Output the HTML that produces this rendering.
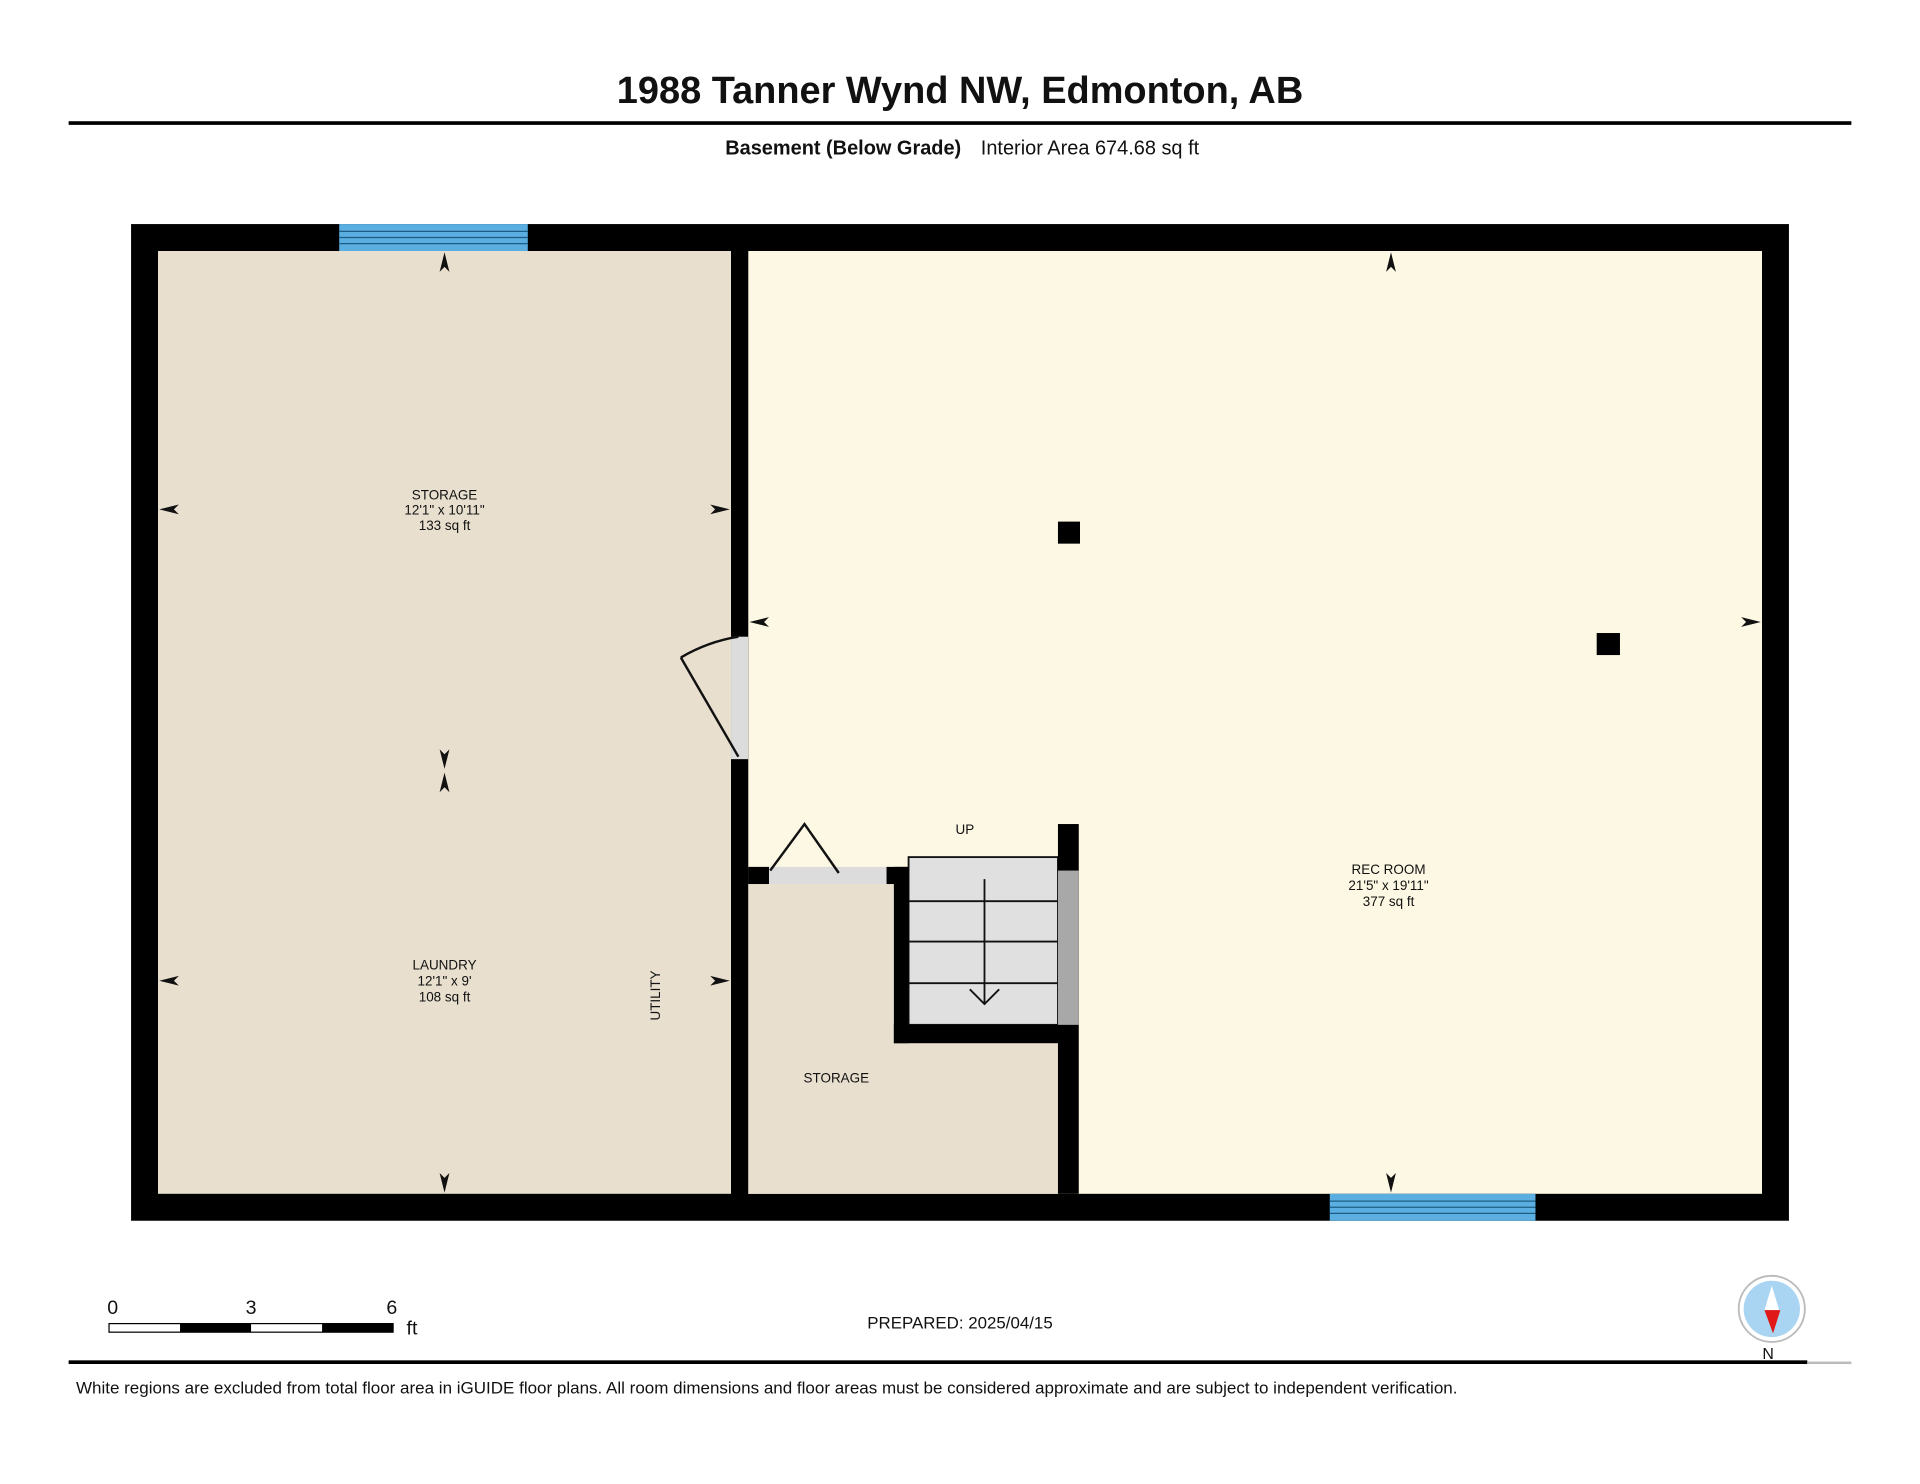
<!DOCTYPE html>
<html><head><meta charset="utf-8"><style>
html,body{margin:0;padding:0;background:#fff;}
svg{display:block;}
text{font-family:"Liberation Sans",Arial,sans-serif;fill:#111;}
</style></head><body>
<svg width="1920" height="1484" viewBox="0 0 1568 1212" xmlns="http://www.w3.org/2000/svg">
<rect width="1568" height="1212" fill="#fff"/>
<text x="784" y="84" font-size="31" font-weight="bold" text-anchor="middle">1988 Tanner Wynd NW, Edmonton, AB</text>
<rect x="56" y="99" width="1456" height="3" fill="#000"/>
<text x="785" y="126" font-size="16.3" font-weight="bold" text-anchor="end">Basement (Below Grade)</text>
<text x="801" y="126" font-size="16.3">Interior Area 674.68 sq ft</text>

<rect x="107" y="183" width="1354" height="814" fill="#000"/>
<rect x="129" y="205" width="468" height="770" fill="#e8dfcf"/>
<rect x="611" y="205" width="828" height="770" fill="#fdf8e3"/>
<rect x="611" y="722" width="253" height="253" fill="#e8dfcf"/>
<rect x="597" y="205" width="14" height="770" fill="#000"/>
<rect x="597" y="520" width="14" height="100" fill="#dcdcdc"/>
<rect x="611" y="708" width="17" height="14" fill="#000"/>
<rect x="628" y="708" width="96" height="14" fill="#dcdcdc"/>
<rect x="724" y="708" width="18" height="14" fill="#000"/>
<rect x="742" y="700" width="122" height="137" fill="#e0e0e0" stroke="#111" stroke-width="1.5"/>
<g stroke="#111" stroke-width="1.5">
<line x1="742" y1="736" x2="864" y2="736"/>
<line x1="742" y1="769" x2="864" y2="769"/>
<line x1="742" y1="803" x2="864" y2="803"/>
<line x1="804" y1="718" x2="804" y2="820"/>
<polyline points="792,808 804,820 816,808" fill="none"/>
</g>
<rect x="730" y="708" width="12" height="144" fill="#000"/>
<rect x="730" y="837" width="150" height="15" fill="#000"/>
<rect x="864" y="673" width="17" height="302" fill="#000"/>
<rect x="864" y="711" width="17" height="126" fill="#a8a8a8"/>
<g stroke="#111" stroke-width="2" fill="none">
<line x1="603" y1="618" x2="556" y2="537"/>
<path d="M556 537 Q578 524 603 520"/>
<polyline points="629,711 657,673 685,713"/>
</g>
<g>
<rect x="277" y="183" width="154" height="22" fill="#5aaee0"/>
<line x1="277" y1="189" x2="431" y2="189" stroke="#1d5d85" stroke-width="1"/>
<line x1="277" y1="194" x2="431" y2="194" stroke="#1d5d85" stroke-width="1"/>
<line x1="277" y1="199" x2="431" y2="199" stroke="#1d5d85" stroke-width="1"/>
<rect x="1086" y="975" width="168" height="22" fill="#5aaee0"/>
<line x1="1086" y1="981" x2="1254" y2="981" stroke="#1d5d85" stroke-width="1"/>
<line x1="1086" y1="986" x2="1254" y2="986" stroke="#1d5d85" stroke-width="1"/>
<line x1="1086" y1="991" x2="1254" y2="991" stroke="#1d5d85" stroke-width="1"/>
</g>
<rect x="864" y="426" width="18" height="18" fill="#000"/>
<rect x="1304" y="517" width="19" height="18" fill="#000"/>
<g fill="#111">
<path d="M363 206 l-4 16 l4 -4 l4 4z"/>
<path d="M363 974 l-4 -16 l4 4 l4 -4z"/>
<path d="M363 628 l-4 -16 l4 4 l4 -4z"/>
<path d="M363 631 l-4 16 l4 -4 l4 4z"/>
<path d="M130 416 l16 -4 l-4 4 l4 4z"/>
<path d="M596 416 l-16 -4 l4 4 l-4 4z"/>
<path d="M130 801 l16 -4 l-4 4 l4 4z"/>
<path d="M596 801 l-16 -4 l4 4 l-4 4z"/>
<path d="M1136 206 l-4 16 l4 -4 l4 4z"/>
<path d="M1136 974 l-4 -16 l4 4 l4 -4z"/>
<path d="M612 508 l16 -4 l-4 4 l4 4z"/>
<path d="M1438 508 l-16 -4 l4 4 l-4 4z"/>
</g>
<g font-size="11" text-anchor="middle">
<text x="363" y="408">STORAGE</text>
<text x="363" y="420">12'1" x 10'11"</text>
<text x="363" y="433">133 sq ft</text>
<text x="363" y="792">LAUNDRY</text>
<text x="363" y="805">12'1" x 9'</text>
<text x="363" y="818">108 sq ft</text>
<text x="1134" y="714">REC ROOM</text>
<text x="1134" y="727">21'5" x 19'11"</text>
<text x="1134" y="740">377 sq ft</text>
<text x="788" y="681">UP</text>
<text x="683" y="884">STORAGE</text>
<text transform="translate(539,813) rotate(-90)">UTILITY</text>
</g>
<text x="92" y="1073" font-size="16" text-anchor="middle">0</text>
<text x="205" y="1073" font-size="16" text-anchor="middle">3</text>
<text x="320" y="1073" font-size="16" text-anchor="middle">6</text>
<text x="332" y="1090" font-size="16">ft</text>
<rect x="89" y="1081" width="232" height="7" fill="#fff" stroke="#000" stroke-width="1"/>
<rect x="147" y="1081" width="58" height="7" fill="#000"/>
<rect x="263" y="1081" width="58" height="7" fill="#000"/>
<text x="784" y="1085" font-size="13.8" text-anchor="middle">PREPARED: 2025/04/15</text>
<circle cx="1447" cy="1069" r="27" fill="#fff" stroke="#bbb" stroke-width="1.5"/>
<circle cx="1447" cy="1069" r="23" fill="#a9d4f2"/>
<path d="M1447 1050 l-6 20 h12z" fill="#fff"/>
<path d="M1441 1070 h13 l-6 19z" fill="#e01818"/>
<text x="1444" y="1110" font-size="13" text-anchor="middle">N</text>
<rect x="56" y="1111" width="1420" height="3" fill="#000"/>
<rect x="1476" y="1112" width="36" height="2" fill="#bbb"/>
<text x="62" y="1138" font-size="13.9">White regions are excluded from total floor area in iGUIDE floor plans. All room dimensions and floor areas must be considered approximate and are subject to independent verification.</text>
</svg>
</body></html>
